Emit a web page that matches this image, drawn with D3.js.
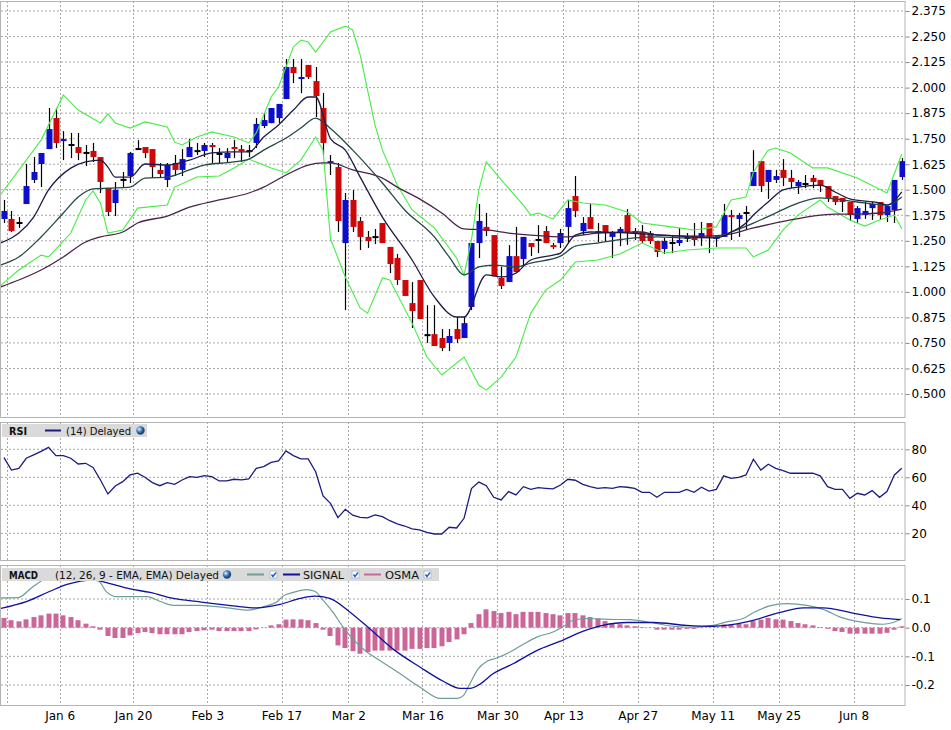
<!DOCTYPE html>
<html>
<head>
<meta charset="utf-8">
<script src="https://cdn.jsdelivr.net/npm/d3@7"></script>
<style>
  body { margin: 0; background: #fff; }
  svg { display: block; font-family: "DejaVu Sans", Verdana, sans-serif; }
</style>
</head>
<body>
<svg id="svg"></svg>
<script>
const width = 951;
const height = 730;

// OHLC, one per trading day
const opens  = [1.357,1.357,1.342,1.430,1.548,1.626,1.699,1.851,1.738,1.724,1.709,1.685,1.690,1.660,1.508,1.435,1.553,1.567,1.704,1.709,1.699,1.597,1.548,1.631,1.597,1.660,1.694,1.690,1.719,1.680,1.655,1.709,1.699,1.694,1.729,1.812,1.826,1.851,1.944,2.101,2.042,2.111,2.032,1.900,1.630,1.611,1.239,1.450,1.347,1.269,1.273,1.337,1.220,1.166,1.058,0.945,1.058,0.793,0.793,0.774,0.750,0.818,0.774,0.926,1.239,1.318,1.278,1.068,1.048,1.175,1.161,1.239,1.259,1.298,1.229,1.239,1.318,1.469,1.298,1.366,1.298,1.327,1.269,1.288,1.376,1.298,1.293,1.288,1.249,1.210,1.244,1.239,1.269,1.273,1.264,1.337,1.264,1.269,1.376,1.357,1.391,1.518,1.640,1.538,1.548,1.597,1.558,1.518,1.533,1.558,1.548,1.518,1.469,1.460,1.440,1.357,1.376,1.410,1.440,1.376,1.401,1.562];
const highs  = [1.450,1.396,1.366,1.626,1.660,1.680,1.900,1.900,1.787,1.778,1.778,1.719,1.729,1.660,1.508,1.538,1.587,1.685,1.743,1.709,1.699,1.631,1.631,1.670,1.699,1.748,1.729,1.729,1.729,1.704,1.704,1.743,1.719,1.719,1.851,1.875,1.900,1.920,2.140,2.140,2.140,2.111,2.101,1.974,1.670,1.631,1.484,1.499,1.366,1.298,1.308,1.337,1.220,1.185,1.058,1.048,1.058,0.935,0.935,0.818,0.818,0.877,0.877,1.239,1.430,1.386,1.278,1.122,1.229,1.318,1.269,1.239,1.327,1.322,1.239,1.308,1.450,1.567,1.366,1.430,1.337,1.327,1.298,1.318,1.405,1.313,1.327,1.298,1.249,1.264,1.278,1.313,1.288,1.337,1.342,1.337,1.278,1.430,1.401,1.386,1.420,1.694,1.640,1.597,1.597,1.650,1.597,1.548,1.572,1.572,1.548,1.518,1.469,1.460,1.440,1.420,1.440,1.440,1.440,1.420,1.548,1.655];
const lows   = [1.337,1.293,1.313,1.430,1.533,1.513,1.699,1.704,1.645,1.655,1.645,1.616,1.636,1.484,1.371,1.371,1.513,1.533,1.699,1.655,1.558,1.562,1.513,1.567,1.567,1.660,1.670,1.660,1.631,1.631,1.631,1.655,1.636,1.660,1.704,1.802,1.826,1.826,1.944,2.022,1.973,2.042,1.856,1.670,1.572,1.293,0.911,1.293,1.205,1.215,1.234,1.239,1.092,1.034,0.980,0.823,0.867,0.750,0.735,0.710,0.710,0.750,0.774,0.911,1.166,1.273,1.077,1.014,1.048,1.097,1.122,1.175,1.190,1.239,1.210,1.215,1.239,1.366,1.278,1.308,1.244,1.249,1.166,1.224,1.230,1.254,1.239,1.234,1.171,1.185,1.190,1.225,1.244,1.225,1.225,1.190,1.220,1.269,1.254,1.269,1.303,1.518,1.489,1.455,1.533,1.518,1.508,1.479,1.508,1.508,1.489,1.440,1.425,1.391,1.347,1.337,1.357,1.352,1.352,1.342,1.337,1.548];
const closes = [1.396,1.298,1.342,1.518,1.587,1.680,1.797,1.729,1.748,1.724,1.680,1.685,1.660,1.538,1.391,1.499,1.553,1.680,1.704,1.680,1.611,1.577,1.621,1.597,1.650,1.709,1.694,1.719,1.709,1.680,1.680,1.699,1.690,1.694,1.822,1.841,1.900,1.920,2.101,2.071,2.052,2.052,1.959,1.729,1.640,1.347,1.450,1.318,1.269,1.249,1.273,1.239,1.136,1.058,0.980,0.906,0.867,0.793,0.735,0.725,0.784,0.769,0.847,1.239,1.347,1.298,1.077,1.029,1.175,1.097,1.269,1.220,1.259,1.239,1.220,1.288,1.410,1.396,1.337,1.308,1.288,1.293,1.288,1.308,1.293,1.288,1.249,1.249,1.195,1.249,1.244,1.254,1.269,1.254,1.288,1.269,1.269,1.376,1.366,1.376,1.391,1.587,1.518,1.597,1.567,1.558,1.538,1.538,1.533,1.538,1.518,1.460,1.440,1.440,1.376,1.410,1.396,1.430,1.376,1.420,1.548,1.640];

// overlay lines as [day index, value]
const bandUpper = [[-0.5,1.474],[5,1.743],[8,1.964],[10,1.890],[13,1.827],[14,1.871],[15,1.827],[17,1.802],[19,1.832],[22,1.807],[23,1.733],[24,1.719],[26,1.758],[28,1.783],[31,1.758],[33,1.729],[34,1.778],[36,1.954],[37,2.003],[39,2.199],[40,2.233],[41,2.223],[42,2.174],[44,2.272],[46,2.301],[47,2.282],[48,2.160],[49,1.988],[50,1.817],[51,1.695],[53,1.523],[55,1.401],[58,1.313],[61,1.166],[62,1.082],[63,1.254],[64,1.499],[65,1.636],[67,1.548],[70,1.425],[71,1.376],[72,1.386],[74,1.357],[76,1.450],[78,1.435],[81,1.425],[84,1.391],[86,1.337],[90,1.318],[93,1.303],[96,1.318],[98,1.450],[100,1.464],[101,1.587],[103,1.694],[104,1.704],[106,1.680],[109,1.607],[111,1.607],[115,1.557],[119,1.484],[121,1.675]];
const bandLower = [[-0.5,1.030],[2,1.107],[5,1.180],[6,1.171],[9,1.288],[11,1.450],[12,1.494],[13,1.435],[14,1.288],[16,1.303],[18,1.410],[22,1.425],[23,1.513],[26,1.562],[29,1.567],[31,1.606],[33,1.650],[36,1.606],[38,1.582],[40,1.645],[42,1.758],[43,1.694],[44,1.260],[46,1.073],[48,0.921],[49,0.896],[51,1.068],[52,1.058],[55,0.847],[57,0.681],[59,0.593],[62,0.681],[64,0.544],[65,0.519],[67,0.583],[69,0.681],[71,0.896],[73,1.009],[75,1.058],[77,1.146],[80,1.156],[83,1.185],[86,1.239],[89,1.190],[92,1.205],[96,1.215],[100,1.215],[101,1.171],[103,1.205],[105,1.303],[107,1.376],[110,1.450],[111,1.415],[114,1.352],[116,1.322],[118,1.352],[120,1.376],[121,1.308]];
const maShort = [[-0.5,1.239],[1,1.264],[2,1.288],[4,1.366],[6,1.499],[9,1.606],[11,1.636],[13,1.645],[14,1.611],[15,1.562],[17,1.562],[19,1.626],[22,1.621],[25,1.645],[28,1.680],[31,1.685],[33,1.685],[35,1.758],[37,1.817],[39,1.890],[41,1.954],[42,1.954],[44,1.750],[46,1.694],[48,1.562],[51,1.366],[55,1.156],[58,0.975],[61,0.877],[62,0.877],[65,1.083],[67,1.073],[69,1.092],[71,1.156],[74,1.180],[75,1.190],[77,1.278],[79,1.293],[83,1.290],[90,1.275],[96,1.264],[98,1.293],[100,1.337],[101,1.376],[103,1.440],[105,1.499],[107,1.513],[110,1.523],[112,1.489],[114,1.455],[118,1.435],[119,1.425],[121,1.489]];
const maMid = [[-0.5,1.131],[2,1.171],[5,1.269],[8,1.386],[10,1.464],[12,1.504],[14,1.508],[17,1.513],[19,1.557],[22,1.562],[25,1.597],[27,1.621],[31,1.636],[33,1.650],[35,1.694],[38,1.753],[40,1.802],[42,1.851],[44,1.800],[47,1.694],[51,1.533],[54,1.401],[58,1.269],[60,1.171],[62,1.083],[64,1.122],[66,1.131],[69,1.122],[71,1.141],[75,1.175],[77,1.224],[80,1.239],[85,1.264],[88,1.269],[92,1.264],[96,1.269],[98,1.293],[101,1.337],[104,1.386],[106,1.420],[110,1.460],[113,1.450],[115,1.440],[119,1.425],[121,1.464]];
const maLong = [[-0.5,1.024],[2,1.058],[5,1.107],[8,1.171],[11,1.244],[13,1.269],[16,1.293],[18,1.337],[22,1.371],[25,1.415],[29,1.450],[33,1.484],[35,1.513],[38,1.572],[41,1.621],[43,1.631],[44,1.631],[47,1.597],[51,1.557],[53,1.513],[56,1.455],[59,1.386],[62,1.308],[65,1.303],[68,1.288],[71,1.278],[76,1.269],[80,1.288],[86,1.293],[88,1.278],[94,1.273],[97,1.278],[101,1.313],[106,1.352],[109,1.371],[112,1.381],[115,1.381],[118,1.386],[121,1.405]];

// RSI (14), one per day
const rsi = [74,65.2,66.4,73.6,76,78.5,81.4,75.5,75.5,73.6,69.5,70,67.1,58.1,48.1,53.8,56.9,61.7,62.9,60,56.2,54,56.2,55,58.1,60.5,60,61.2,60.5,57.4,57.4,58.6,58.1,58.8,66.4,67.6,70.7,71.7,78.8,75.5,73.1,73.1,64,46.7,41.4,31.2,37.1,32.9,31.4,31,33.1,31.9,29,26.7,25.2,23.1,22.4,20.7,19.5,19.5,24.3,23.8,30.7,52,56.6,54,45.7,43.8,49.8,47.4,53.3,51.4,52.6,52.1,51.7,54.5,58.6,57.9,55,53.3,52.1,52.6,52.1,53.3,52.9,52.1,49.3,49.3,45.7,49.3,49.3,49.3,51.4,49.3,52.9,50.2,51.4,61,59.3,60,61.7,72.9,65.2,69.3,66.4,64.8,62.9,62.9,62.9,62.9,61,53.3,51.4,51.4,45,48.6,47.4,50.5,45.7,49.8,61.7,66.4];

// MACD (12, 26, 9)
const macdLine = [[-0.5,0.104],[1.9,0.105],[3.9,0.143],[6.2,0.180],[8.5,0.193],[10.6,0.186],[12.5,0.172],[13.9,0.123],[15.2,0.108],[17.4,0.108],[19.3,0.108],[21,0.092],[22.8,0.078],[26.4,0.078],[30.1,0.069],[32.9,0.061],[34.9,0.073],[36.8,0.090],[37.6,0.110],[39,0.123],[40.8,0.133],[41.9,0.127],[43,0.096],[44.3,0.055],[45.7,0.002],[47,-0.039],[48.9,-0.085],[50.7,-0.115],[53.4,-0.161],[56.1,-0.208],[58.8,-0.247],[61.1,-0.247],[61.9,-0.237],[62.8,-0.195],[63.9,-0.144],[65.1,-0.117],[66.4,-0.106],[68.2,-0.085],[70,-0.058],[71.8,-0.033],[74,-0.015],[75.3,0.002],[76.7,0.026],[78.6,0.032],[81.3,0.029],[84.4,0.028],[87.1,0.018],[90.2,0.005],[92.9,0.002],[95.6,0.008],[97.4,0.020],[99.6,0.032],[100.9,0.051],[103.2,0.076],[105.5,0.084],[108.2,0.078],[110.4,0.064],[112.7,0.037],[115.4,0.020],[118.5,0.012],[119.8,0.018],[121,0.032]];
const signalLine = [[-0.5,0.067],[3.1,0.092],[6.2,0.127],[8.5,0.151],[12,0.166],[14.3,0.154],[17,0.135],[19.7,0.123],[22.8,0.102],[26.4,0.090],[30.9,0.076],[34.1,0.069],[37.2,0.081],[39.9,0.102],[41.9,0.110],[43.9,0.102],[46.6,0.055],[49.3,-0.004],[52.4,-0.074],[56.1,-0.138],[59.2,-0.187],[61.5,-0.212],[62.8,-0.212],[64.2,-0.196],[65.9,-0.161],[68.6,-0.126],[71.8,-0.080],[74.9,-0.048],[78,-0.013],[80.7,0.008],[84,0.018],[87.5,0.018],[92,0.008],[95.6,0.005],[100.1,0.020],[104.6,0.053],[107.7,0.069],[110.4,0.069],[114.4,0.051],[118.1,0.034],[120.8,0.028]];
const osma = [0.034,0.026,0.022,0.029,0.037,0.043,0.049,0.049,0.043,0.037,0.026,0.014,0.005,-0.007,-0.029,-0.036,-0.036,-0.027,-0.019,-0.015,-0.019,-0.023,-0.023,-0.023,-0.023,-0.015,-0.012,-0.009,-0.007,-0.012,-0.012,-0.012,-0.012,-0.012,-0.006,-0.001,0.008,0.012,0.028,0.029,0.029,0.026,0.016,-0.007,-0.029,-0.062,-0.071,-0.082,-0.091,-0.085,-0.080,-0.080,-0.080,-0.080,-0.080,-0.074,-0.074,-0.071,-0.071,-0.065,-0.050,-0.041,-0.023,0.016,0.047,0.064,0.058,0.051,0.055,0.047,0.055,0.055,0.055,0.051,0.047,0.043,0.051,0.051,0.043,0.037,0.032,0.023,0.016,0.012,0.008,0.005,0.002,0.001,-0.007,-0.007,-0.007,-0.007,-0.004,-0.004,0.001,0.001,0.001,0.011,0.012,0.014,0.012,0.023,0.028,0.034,0.029,0.028,0.023,0.016,0.012,0.008,0.002,-0.004,-0.012,-0.015,-0.021,-0.021,-0.021,-0.021,-0.021,-0.018,-0.007,0.005];

// axis ticks
const dateTicks  = [0.45, 7.5, 17.4, 27.4, 37.4, 46.4, 56.4, 66.5, 75.4, 85.4, 95.5, 104.4, 114.5];
const dateLabels = ["", "Jan 6", "Jan 20", "Feb 3", "Feb 17", "Mar 2", "Mar 16", "Mar 30", "Apr 13", "Apr 27", "May 11", "May 25", "Jun 8"];
const priceTicks = d3.range(0.5, 2.376, 0.125);
const rsiTicks = [20, 40, 60, 80];
const macdTicks = [-0.2, -0.1, 0.0, 0.1];

let svg = d3.select("#svg").attr("width", width).attr("height", height);

const left = 1, right = 905;
const panels = {
    main: { top: 1, bottom: 417 },
    rsi:  { top: 422, bottom: 560 },
    macd: { top: 565, bottom: 705 }
};

const xScale = d3.scaleLinear().domain([0, 121]).range([4, 901.8]);
const yMain = d3.scaleLinear().domain([0.5, 2.375]).range([394, 11]);
const yRsi = d3.scaleLinear().domain([20, 80]).range([533.3, 449.3]);
const yMacd = d3.scaleLinear().domain([-0.2, 0.1]).range([685, 599]);

const defs = svg.append("defs");
Object.entries(panels).forEach(([k, p]) => {
    defs.append("clipPath").attr("id", "clip-" + k)
        .append("rect").attr("x", left).attr("y", p.top)
        .attr("width", right - left).attr("height", p.bottom - p.top);
});
const grad = defs.append("radialGradient").attr("id", "globe").attr("cx", "35%").attr("cy", "35%");
grad.append("stop").attr("offset", "0%").attr("stop-color", "#dff0ff");
grad.append("stop").attr("offset", "60%").attr("stop-color", "#4f86c0");
grad.append("stop").attr("offset", "100%").attr("stop-color", "#1f4a80");

function drawPanel(key, yScale, ticks, fmt) {
    const p = panels[key];
    const g = svg.append("g");
    // horizontal grid
    g.selectAll(".hgrid").data(ticks).enter().append("line")
        .attr("x1", left).attr("x2", right)
        .attr("y1", d => yScale(d)).attr("y2", d => yScale(d))
        .attr("stroke", "#a8a8a8").attr("stroke-dasharray", "2,2");
    // vertical grid
    g.selectAll(".vgrid").data(dateTicks).enter().append("line")
        .attr("x1", d => Math.round(xScale(d)) + 0.5).attr("x2", d => Math.round(xScale(d)) + 0.5)
        .attr("y1", p.top).attr("y2", p.bottom)
        .attr("stroke", "#a8a8a8").attr("stroke-dasharray", "2,2");
    // frame
    g.append("rect").attr("x", left - 0.5).attr("y", p.top + 0.5)
        .attr("width", right - left + 0.5).attr("height", p.bottom - p.top)
        .attr("fill", "none").attr("stroke", "#b4b4b4");
    // right axis
    const ax = svg.append("g")
        .attr("transform", `translate(${right + 0.5},0)`)
        .call(d3.axisRight(yScale).tickValues(ticks).tickFormat(fmt).tickSize(4).tickPadding(2));
    ax.select(".domain").remove();
    ax.selectAll("line").attr("stroke", "#888");
    ax.selectAll("text").attr("fill", "#000").style("font-size", "12px")
        .style("font-family", "'DejaVu Sans', Verdana, sans-serif");
    return svg.append("g").attr("clip-path", `url(#clip-${key})`);
}

// ---- main price panel
const mainG = drawPanel("main", yMain, priceTicks, d => d.toFixed(3));
const candles = d3.range(opens.length);
mainG.selectAll(".wick").data(candles).enter().append("line")
    .attr("x1", i => Math.round(xScale(i)) + 0.5).attr("x2", i => Math.round(xScale(i)) + 0.5)
    .attr("y1", i => yMain(highs[i])).attr("y2", i => yMain(lows[i]))
    .attr("stroke", "#000").attr("stroke-width", 1.2);
mainG.selectAll(".body").data(candles).enter().append("rect")
    .attr("x", i => Math.round(xScale(i)) - 2.5)
    .attr("width", 6)
    .attr("y", i => yMain(Math.max(opens[i], closes[i])))
    .attr("height", i => Math.max(2, Math.abs(yMain(opens[i]) - yMain(closes[i]))))
    .attr("fill", i => closes[i] > opens[i] ? "#0d0dcc" : (closes[i] < opens[i] ? "#cc0808" : "#000"));

const lineGen = (ys, curve) => d3.line().x(d => xScale(d[0])).y(d => ys(d[1])).curve(curve);
[
    [bandUpper, "#44ee44", 1.1, d3.curveLinear],
    [bandLower, "#44ee44", 1.1, d3.curveLinear],
    [maLong, "#4a2448", 1.3, d3.curveMonotoneX],
    [maMid, "#244848", 1.3, d3.curveMonotoneX],
    [maShort, "#1c1c46", 1.3, d3.curveMonotoneX]
].forEach(([data, col, w, curve]) => {
    mainG.append("path").datum(data).attr("d", lineGen(yMain, curve))
        .attr("fill", "none").attr("stroke", col).attr("stroke-width", w);
});

// ---- RSI panel
const rsiG = drawPanel("rsi", yRsi, rsiTicks, d => d);
rsiG.append("path").datum(rsi)
    .attr("d", d3.line().x((d, i) => xScale(i)).y(d => yRsi(d)))
    .attr("fill", "none").attr("stroke", "#1c1c80").attr("stroke-width", 1.3);

// ---- MACD panel
const macdG = drawPanel("macd", yMacd, macdTicks, d => d.toFixed(1));
macdG.selectAll(".osma").data(osma).enter().append("rect")
    .attr("x", (d, i) => Math.round(xScale(i)) - 2.5)
    .attr("width", 5)
    .attr("y", d => Math.min(yMacd(d), yMacd(0)))
    .attr("height", d => Math.abs(yMacd(d) - yMacd(0)))
    .attr("fill", "#cc6699");
macdG.append("path").datum(macdLine).attr("d", lineGen(yMacd, d3.curveMonotoneX))
    .attr("fill", "none").attr("stroke", "#6d9e99").attr("stroke-width", 1.2);
macdG.append("path").datum(signalLine).attr("d", lineGen(yMacd, d3.curveMonotoneX))
    .attr("fill", "none").attr("stroke", "#1010a0").attr("stroke-width", 1.3);

// ---- date axis
const xAxis = svg.append("g").attr("transform", `translate(0,${panels.macd.bottom})`)
    .call(d3.axisBottom(xScale).tickValues(dateTicks).tickFormat((d, i) => dateLabels[i]).tickSize(0).tickPadding(6));
xAxis.select(".domain").remove();
xAxis.selectAll("text").attr("fill", "#000").style("font-size", "12px")
    .style("font-family", "'DejaVu Sans', Verdana, sans-serif");

// ---- legends
function globe(x, y) {
    svg.append("circle").attr("cx", x).attr("cy", y).attr("r", 4.2).attr("fill", "url(#globe)");
}
function check(x, y) {
    svg.append("rect").attr("x", x).attr("y", y).attr("width", 7).attr("height", 7)
        .attr("fill", "#fff").attr("stroke", "#b0c4d8");
    svg.append("path").attr("d", `M${x + 1.5},${y + 3.5} L${x + 3},${y + 5.5} L${x + 6},${y + 1.5}`)
        .attr("fill", "none").attr("stroke", "#1a5fd0").attr("stroke-width", 1.4);
}
function text(x, y, s, len, bold) {
    svg.append("text").attr("x", x).attr("y", y).text(s)
        .attr("textLength", len).attr("lengthAdjust", "spacingAndGlyphs")
        .style("font-size", "11px").style("font-weight", bold ? "bold" : "normal").attr("fill", "#111");
}

svg.append("rect").attr("x", 2).attr("y", 424).attr("width", 145).attr("height", 13).attr("fill", "#dadada");
text(9, 434.5, "RSI", 18, true);
svg.append("line").attr("x1", 45).attr("x2", 61).attr("y1", 430.5).attr("y2", 430.5).attr("stroke", "#1c1c80").attr("stroke-width", 2);
text(66, 434.5, "(14) Delayed", 65);
globe(140.5, 430.5);

svg.append("rect").attr("x", 2).attr("y", 568).attr("width", 437).attr("height", 13).attr("fill", "#dadada");
text(9, 578.5, "MACD", 29, true);
text(55, 578.5, "(12, 26, 9 - EMA, EMA) Delayed", 164);
globe(227, 574.5);
svg.append("line").attr("x1", 247).attr("x2", 264).attr("y1", 574.5).attr("y2", 574.5).attr("stroke", "#6d9e99").attr("stroke-width", 2);
check(270, 571);
svg.append("line").attr("x1", 283).attr("x2", 300).attr("y1", 574.5).attr("y2", 574.5).attr("stroke", "#1010a0").attr("stroke-width", 2);
text(303, 578.5, "SIGNAL", 41);
check(352, 571);
svg.append("line").attr("x1", 364).attr("x2", 381).attr("y1", 574.5).attr("y2", 574.5).attr("stroke", "#cc6699").attr("stroke-width", 2);
text(385, 578.5, "OSMA", 34);
check(424, 571);
</script>
</body>
</html>
